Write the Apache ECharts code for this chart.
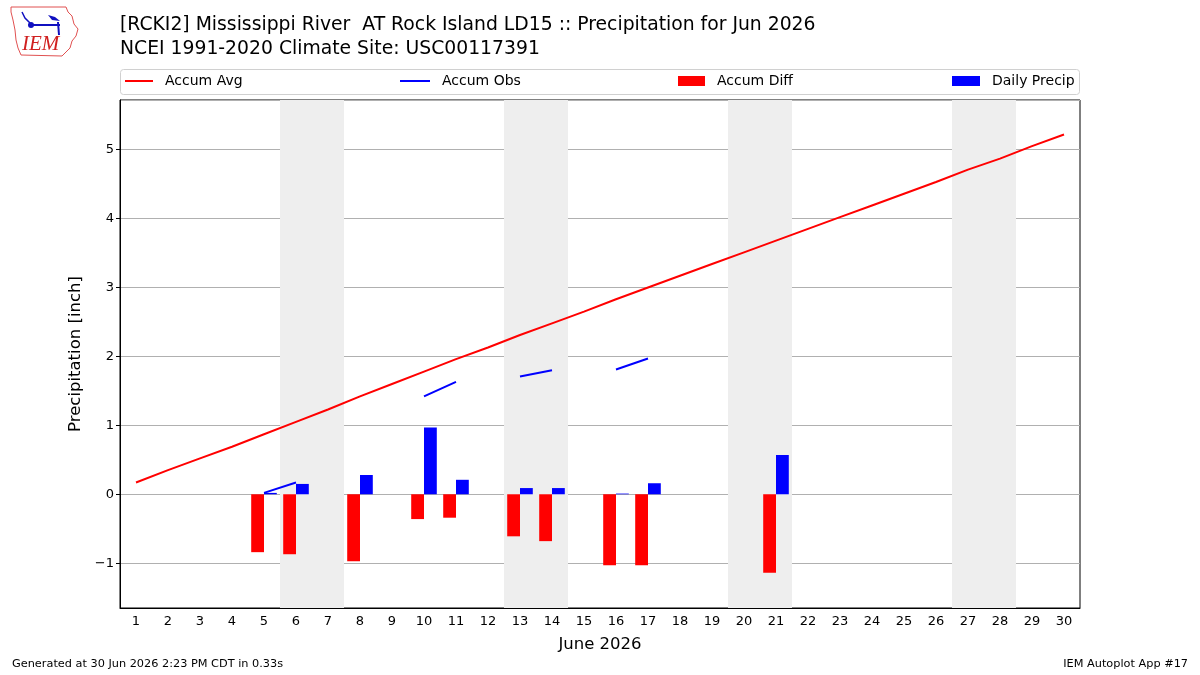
<!DOCTYPE html>
<html>
<head>
<meta charset="utf-8">
<script src="https://cdn.jsdelivr.net/npm/echarts@6/dist/echarts.min.js"></script>
<style>
  html, body { margin: 0; padding: 0; background: #fff; }
  #chart { width: 1200px; height: 675px; }
</style>
</head>
<body>
<div id="chart"></div>
<script>
//日期分类
var days = ['1', '2', '3', '4', '5', '6', '7', '8', '9', '10', '11', '12', '13', '14', '15',
	'16', '17', '18', '19', '20', '21', '22', '23', '24', '25', '26', '27', '28', '29', '30'];
//累计平均
var accumAvg = [0.17, 0.35, 0.52, 0.69, 0.87, 1.05, 1.23, 1.42, 1.60, 1.78, 1.96, 2.13, 2.31, 2.48, 2.65,
	2.83, 3.00, 3.17, 3.34, 3.51, 3.68, 3.85, 4.02, 4.19, 4.36, 4.53, 4.71, 4.87, 5.05, 5.22];
//累计观测
var accumObs = [null, null, null, null, 0.02, 0.17, null, null, null, 1.42, 1.63, null, 1.71, 1.80, null,
	1.81, 1.97, null, null, null, null, null, null, null, null, null, null, null, null, null];
//累计差值
var accumDiff = [null, null, null, null, -0.84, -0.87, null, -0.97, null, -0.36, -0.34, null, -0.61, -0.68, null,
	-1.03, -1.03, null, null, null, -1.14, null, null, null, null, null, null, null, null, null];
//日降水
var dailyPrecip = [null, null, null, null, 0.02, 0.15, null, 0.28, null, 0.97, 0.21, null, 0.09, 0.09, null,
	0.01, 0.16, null, null, null, 0.57, null, null, null, null, null, null, null, null, null];
//周末阴影
var weekends = [[5.5, 7.5], [12.5, 14.5], [19.5, 21.5], [26.5, 28.5]];

var titleLine1 = '[RCKI2] Mississippi River  AT Rock Island LD15 :: Precipitation for Jun 2026';
var titleLine2 = 'NCEI 1991-2020 Climate Site: USC00117391';

var chart = echarts.init(document.getElementById('chart'));

var font = 'DejaVu Sans';

var legendBase = function(left, name, w, h) {
	return {
		left: left,
		top: 71,
		padding: 0,
		data: [{ name: name, icon: 'rect' }],
		itemWidth: w,
		itemHeight: h,
		selectedMode: false,
		textStyle: { fontFamily: font, fontSize: 14, color: '#000', padding: [0, 0, 0, 7], lineHeight: 20 }
	};
};

var option = {
	animation: false,
	textStyle: { fontFamily: font },
	title: [{
		text: titleLine1 + '\n' + titleLine2,
		left: 115,
		top: 8,
		textStyle: { fontFamily: font, fontSize: 18.8, fontWeight: 'normal', color: '#000', lineHeight: 24 }
	}, {
		text: 'Generated at 30 Jun 2026 2:23 PM CDT in 0.33s',
		left: 7,
		top: 654,
		textStyle: { fontFamily: font, fontSize: 11.3, fontWeight: 'normal', color: '#000' }
	}, {
		text: 'IEM Autoplot App #17',
		right: 7,
		top: 654,
		textStyle: { fontFamily: font, fontSize: 11.3, fontWeight: 'normal', color: '#000' }
	}],
	legend: [
		legendBase(125, 'Accum Avg', 28, 2),
		legendBase(400, 'Accum Obs', 30, 2),
		legendBase(678, 'Accum Diff', 27, 10),
		legendBase(952, 'Daily Precip', 28, 10)
	],
	graphic: [{
		type: 'rect',
		shape: { x: 120.5, y: 69.5, width: 959, height: 25, r: 3 },
		style: { fill: 'none', stroke: '#d0d0d0', lineWidth: 1 },
		silent: true
	}, {
		type: 'polygon',
		shape: { points: [[11, 7], [66, 7], [68, 12], [72, 16], [74, 24], [78, 29], [76, 36], [72, 41],
			[70, 48], [66, 52], [62, 56], [21, 55], [18, 48], [16, 40], [15, 30], [13, 20], [11, 12]] },
		style: { fill: 'none', stroke: '#e05050', lineWidth: 1 },
		silent: true
	}, {
		type: 'polyline',
		shape: { points: [[31, 25], [60, 25]] },
		style: { stroke: '#1010c0', lineWidth: 2 },
		silent: true
	}, {
		type: 'polyline',
		shape: { points: [[22, 12], [25, 18], [30, 23]] },
		style: { stroke: '#1010c0', lineWidth: 1.5, fill: 'none' },
		silent: true
	}, {
		type: 'circle',
		shape: { cx: 31, cy: 25, r: 3 },
		style: { fill: '#1010c0' },
		silent: true
	}, {
		type: 'polygon',
		shape: { points: [[48, 15], [55, 17], [60, 21], [52, 20]] },
		style: { fill: '#1010c0' },
		silent: true
	}, {
		type: 'polyline',
		shape: { points: [[58, 22], [59, 35]] },
		style: { stroke: '#1010c0', lineWidth: 2 },
		silent: true
	}, {
		type: 'text',
		left: 22,
		top: 34,
		style: { text: 'IEM', fill: '#d02020', font: 'italic 21px "Liberation Serif"' },
		silent: true
	}],
	grid: {
		left: 120,
		right: 120,
		top: 100,
		bottom: 67,
		show: true,
		borderColor: '#000',
		borderWidth: 1,
		backgroundColor: 'transparent'
	},
	xAxis: [{
		type: 'category',
		data: days,
		boundaryGap: true,
		name: 'June 2026',
		nameLocation: 'middle',
		nameGap: 28,
		nameTextStyle: { fontFamily: font, fontSize: 16.5, color: '#000' },
		axisLine: { onZero: false, lineStyle: { color: '#000' } },
		axisTick: { alignWithLabel: true, length: 4, lineStyle: { color: '#000' } },
		axisLabel: { fontFamily: font, fontSize: 13, color: '#000', margin: 7 },
		splitLine: { show: false }
	}, {
		type: 'value',
		min: 0.5,
		max: 30.5,
		show: false
	}],
	yAxis: {
		type: 'value',
		min: -1.65,
		max: 5.72,
		splitNumber: 8,
		name: 'Precipitation [inch]',
		nameLocation: 'middle',
		nameGap: 36,
		nameTextStyle: { fontFamily: font, fontSize: 16.5, color: '#000' },
		axisLine: { show: true, lineStyle: { color: '#000' } },
		axisTick: { show: true, length: 4, lineStyle: { color: '#000' } },
		axisLabel: {
			fontFamily: font, fontSize: 13, color: '#000', margin: 6,
			showMinLabel: false, showMaxLabel: false,
			formatter: function(v) {
				if(Math.abs(v - Math.round(v)) > 1e-6) {
					return '';
				}
				return String(Math.round(v)).replace('-', '\u2212');
			}
		},
		splitLine: { show: true, lineStyle: { color: '#b0b0b0', width: 1 } }
	},
	series: [{
		//周末阴影
		type: 'line',
		xAxisIndex: 1,
		data: [],
		z: -1,
		silent: true,
		markArea: {
			silent: true,
			itemStyle: { color: '#eeeeee' },
			data: weekends.map(function(w) {
				return [{ xAxis: w[0] }, { xAxis: w[1] }];
			})
		}
	}, {
		name: 'Accum Diff',
		type: 'bar',
		data: accumDiff,
		barWidth: 12.8,
		barGap: '0%',
		itemStyle: { color: '#ff0000' }
	}, {
		name: 'Daily Precip',
		type: 'bar',
		data: dailyPrecip,
		barWidth: 12.8,
		barGap: '0%',
		itemStyle: { color: '#0000ff' }
	}, {
		name: 'Accum Avg',
		type: 'line',
		data: accumAvg,
		showSymbol: false,
		itemStyle: { color: '#ff0000' },
		lineStyle: { color: '#ff0000', width: 2 }
	}, {
		name: 'Accum Obs',
		type: 'line',
		data: accumObs,
		showSymbol: false,
		connectNulls: false,
		itemStyle: { color: '#0000ff' },
		lineStyle: { color: '#0000ff', width: 2 }
	}]
};

chart.setOption(option);
</script>
</body>
</html>
